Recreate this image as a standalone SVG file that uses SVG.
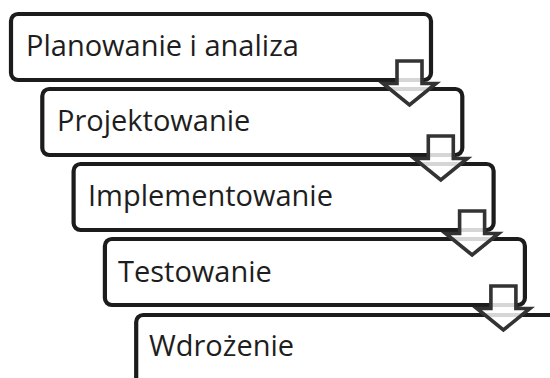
<svg xmlns="http://www.w3.org/2000/svg" width="550" height="378" viewBox="0 0 550 378">
<style>
.box{fill:#fff;stroke:#1c1c1c;stroke-width:4.2}
.lbl{font-family:"Open Sans","Noto Sans",sans-serif;font-size:29px;fill:#1e1e1e}
.arr{fill:#fff;fill-opacity:0.82;stroke:#333;stroke-width:3.6;stroke-linejoin:miter}
</style>
<rect width="550" height="378" fill="#fff"/>
<g id="n1"><rect class="box" x="11" y="14" width="420" height="66" rx="7"/><text class="lbl" x="26" y="56">Planowanie i analiza</text></g>
<g id="n2"><rect class="box" x="42.3" y="89" width="420" height="66" rx="7"/><text class="lbl" x="57" y="131">Projektowanie</text></g>
<g id="n3"><rect class="box" x="73.6" y="164" width="420" height="66" rx="7"/><text class="lbl" x="88" y="206">Implementowanie</text></g>
<g id="n4"><rect class="box" x="104.9" y="239" width="420" height="66" rx="7"/><text class="lbl" x="118" y="282">Testowanie</text></g>
<g id="n5"><rect class="box" x="136.2" y="315" width="440" height="80" rx="7"/><text class="lbl" x="149" y="356">Wdrożenie</text></g>
<g id="connectors">
<path class="arr" d="M397,61 H422 V83.5 H436 L409.5,105 L383,83.5 H397 Z"/>
<path class="arr" transform="translate(31.3,75)" d="M397,61 H422 V83.5 H436 L409.5,105 L383,83.5 H397 Z"/>
<path class="arr" transform="translate(62.6,150)" d="M397,61 H422 V83.5 H436 L409.5,105 L383,83.5 H397 Z"/>
<path class="arr" transform="translate(93.9,225)" d="M397,61 H422 V83.5 H436 L409.5,105 L383,83.5 H397 Z"/>
</g>
</svg>
